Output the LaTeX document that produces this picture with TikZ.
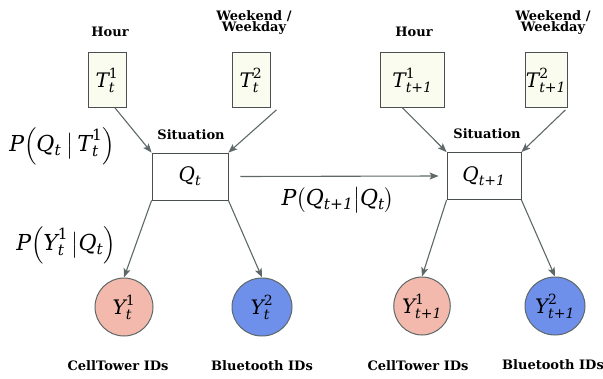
\documentclass[tikz,border=0pt]{standalone}
\usepackage{amsmath}
\usepackage{fontspec}
\setmainfont{DejaVu Serif}
\usetikzlibrary{shapes.geometric,arrows.meta}
\definecolor{boxfill}{HTML}{F9FCEF}
\definecolor{pinkfill}{HTML}{F2B9AC}
\definecolor{bluefill}{HTML}{6E8FEA}
\definecolor{edgegray}{HTML}{5E6868}
\definecolor{linegray}{HTML}{4A4F4F}
% italic variable letters in the serif text face
\newcommand\iv[1]{\text{\rmfamily\itshape #1}}
\newcommand\rv[3]{\iv{#1}^{\text{\rmfamily #3}}_{\iv{#2}}}
\newcommand\rvn[2]{\iv{#1}_{\iv{#2}}}
\tikzset{
  varbox/.style={draw=linegray, line width=0.8pt, fill=boxfill, inner sep=0pt,
    minimum height=55pt, font=\rmfamily\fontsize{20}{22}\selectfont},
  sitbox/.style={draw=linegray, line width=0.8pt, fill=white, inner sep=0pt,
    minimum height=47pt, font=\rmfamily\fontsize{20}{22}\selectfont},
  obsnode/.style={ellipse, draw=edgegray, line width=1pt, inner sep=0pt,
    minimum height=58pt, font=\rmfamily\fontsize{20}{22}\selectfont},
  caption/.style={font=\rmfamily\fontsize{13}{14}\selectfont\bfseries, align=center, inner sep=1pt},
  problabel/.style={font=\rmfamily\fontsize{22}{24}\selectfont, inner sep=0pt},
  dep/.style={draw=edgegray, line width=1.1pt, -{Stealth[length=9pt,width=7pt,inset=2pt]}}
}
\begin{document}
\begin{tikzpicture}[x=1pt,y=-1pt]
\useasboundingbox (0,0) rectangle (603,378);

% time slice t
\node[varbox, minimum width=38pt] (T1a) at (107,80) {$\rv{T}{t}{1}$};
\node[varbox, minimum width=38pt] (T2a) at (251,80) {$\rv{T}{t}{2}$};
\node[sitbox, minimum width=76pt] (Qa) at (190,176.5) {$\rvn{Q}{t}$};
\node[obsnode, fill=pinkfill, minimum width=58pt] (Y1a) at (124,307) {$\rv{Y}{t}{1}$};
\node[obsnode, fill=bluefill, minimum width=60pt] (Y2a) at (262,307) {$\rv{Y}{t}{2}$};

% time slice t+1
\node[varbox, minimum width=64pt] (T1b) at (412.5,80) {$\rv{T}{t+1}{1}$};
\node[varbox, minimum width=42pt] (T2b) at (546,80) {$\rv{T}{t+1}{2}$};
\node[sitbox, minimum width=74pt] (Qb) at (484,176) {$\rvn{Q}{t+1}$};
\node[obsnode, fill=pinkfill, minimum width=52pt] (Y1b) at (422,306) {$\rv{Y}{t+1}{1}$};
\node[obsnode, fill=bluefill, minimum width=60pt] (Y2b) at (555,306) {$\rv{Y}{t+1}{2}$};

% captions
\node[caption] (hA) at (110,32) {Hour};
\node[caption] (wA) at (254,23) {Weekend /\\[-3pt]Weekday};
\node[caption] (sA) at (191,135) {Situation};
\node[caption] (hB) at (414,32) {Hour};
\node[caption] (wB) at (553,23) {Weekend /\\[-3pt]Weekday};
\node[caption] (sB) at (487,134) {Situation};
\node[caption] (cA) at (118,366) {CellTower IDs};
\node[caption] (bA) at (262,366) {Bluetooth IDs};
\node[caption] (cB) at (418,366) {CellTower IDs};
\node[caption] (bB) at (553,365) {Bluetooth IDs};

% probability labels
\node[problabel] (pQT) at (62,146) {$\iv{P}\Big(\rvn{Q}{t}\;\big|\,\rv{T}{t}{1}\Big)$};
\node[problabel] (pYQ) at (66,245) {$\iv{P}\Big(\rv{Y}{t}{1}\,\big|\rvn{Q}{t}\Big)$};
\node[problabel] (pQQ) at (338,200) {$\iv{P}\big(\rvn{Q}{t+1}\big|\rvn{Q}{t}\big)$};

% dependencies
\draw[dep] (T1a.south)++(8,0) -- (Qa.north west);
\draw[dep] (T2a.south east)++(6,2) -- (Qa.north east);
\draw[dep] (Qa.south west) -- (Y1a.north);
\draw[dep] (Qa.south east) -- (Y2a.north);
\draw[dep] (T1b.south)++(-10,0) -- (Qb.north west);
\draw[dep] (T2b.south east)++(-2,2) -- (Qb.north east);
\draw[dep] (Qb.south west) -- (Y1b.north);
\draw[dep] (Qb.south east) -- (Y2b.north);
\draw[dep] (Qa.east)++(12,0) -- ([xshift=-8pt]Qb.west);
\end{tikzpicture}
\end{document}
